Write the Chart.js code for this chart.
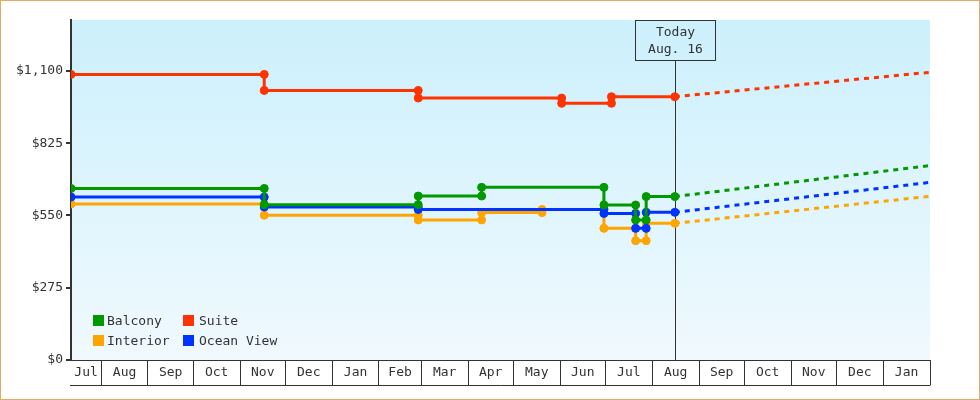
<!DOCTYPE html>
<html>
<head>
<meta charset="utf-8">
<title>Cabin prices</title>
<script src="https://cdn.jsdelivr.net/npm/chart.js@4.4.0/dist/chart.umd.min.js"></script>
<style>
  html, body { margin: 0; padding: 0; background: #fff; }
  #wrap { position: relative; width: 980px; height: 400px; }
  #frame {
    position: absolute; left: 0; top: 0; width: 980px; height: 400px;
    box-sizing: border-box; border: 1px solid #e9a962; pointer-events: none;
  }
  .item {
    position: absolute; font: 13px "DejaVu Sans Mono", monospace; color: #333;
    line-height: 13px; white-space: nowrap;
  }
  .item i {
    position: absolute; left: 0; top: 1px; width: 11px; height: 11px;
  }
</style>
</head>
<body>
<div id="wrap">
  <canvas id="chart" width="980" height="400"></canvas>
  <div id="legend"></div>
  <div id="frame"></div>
</div>
<script>
// --- data ---
const monthLabels = ['Jul', 'Aug', 'Sep', 'Oct', 'Nov', 'Dec', 'Jan', 'Feb', 'Mar', 'Apr',
                     'May', 'Jun', 'Jul', 'Aug', 'Sep', 'Oct', 'Nov', 'Dec', 'Jan'];
const yTicks = [0, 275, 550, 825, 1100];

const seriesNames = ['Balcony', 'Interior', 'Ocean View', 'Suite'];
const seriesColors = ['#009900', '#ffa500', '#0033ff', '#ff3300'];

const balconyDates  = ['2012-07-12', '2012-11-17', '2013-02-27', '2013-04-10', '2013-06-30', '2013-07-21', '2013-07-28'];
const balconyPrices = [653, 591, 624, 657, 590, 533, 622];

const interiorDates  = ['2012-07-12', '2012-11-17', '2013-02-27', '2013-04-10', '2013-05-20', '2013-06-30', '2013-07-21', '2013-07-28'];
const interiorPrices = [594, 551, 533, 561, 573, 501, 454, 520];

const oceanDates  = ['2012-07-12', '2012-11-17', '2013-02-27', '2013-06-30', '2013-07-21', '2013-07-28'];
const oceanPrices = [620, 582, 573, 558, 501, 562];

const suiteDates  = ['2012-07-12', '2012-11-17', '2013-02-27', '2013-06-02', '2013-07-05'];
const suitePrices = [1087, 1026, 997, 977, 1002];

// projected prices at the end of the axis, same order as seriesNames
const projectedPrices = [740, 623, 676, 1095];

const startDate = '2012-07-12';
const todayDate = '2013-08-16';
const endDate = '2014-02-01';
const todayLabel = ['Today', 'Aug. 16'];

// --- helpers ---
const FONT = '13px "DejaVu Sans Mono", monospace';
const INK = '#333';

function day(s) {
  const p = s.split('-').map(Number);
  return Date.UTC(p[0], p[1] - 1, p[2]) / 864e5;
}

// month boundaries after the start, plus the end of the axis
const boundaries = [];
for (let i = 1; i <= monthLabels.length; i++) {
  boundaries.push(Date.UTC(2012, 6 + i, 1) / 864e5);
}

function stepPoints(dates, prices) {
  const pts = [{ x: day(dates[0]), y: prices[0] }];
  for (let i = 1; i < dates.length; i++) {
    pts.push({ x: day(dates[i]), y: prices[i - 1] });
    pts.push({ x: day(dates[i]), y: prices[i] });
  }
  pts.push({ x: day(todayDate), y: prices[prices.length - 1] });
  return pts;
}

const history = [
  stepPoints(balconyDates, balconyPrices),
  stepPoints(interiorDates, interiorPrices),
  stepPoints(oceanDates, oceanPrices),
  stepPoints(suiteDates, suitePrices)
];
// drawing order: green on top, then blue, red, orange
const drawOrder = [0, 3, 1, 2];

const datasets = [];
history.forEach((pts, i) => {
  const last = pts[pts.length - 1];
  datasets.push({
    label: seriesNames[i],
    data: pts,
    borderColor: seriesColors[i],
    backgroundColor: seriesColors[i],
    pointBackgroundColor: seriesColors[i],
    borderWidth: 3,
    pointRadius: 4,
    pointBorderWidth: 1,
    pointHoverRadius: 4,
    order: drawOrder[i]
  });
  datasets.push({
    label: seriesNames[i] + ' (projected)',
    data: [{ x: last.x, y: last.y }, { x: day(endDate), y: projectedPrices[i] }],
    borderColor: seriesColors[i],
    borderWidth: 3,
    borderDash: [5, 5],
    pointRadius: 0,
    order: 10 + drawOrder[i]
  });
});

// --- plugins ---
const background = {
  id: 'background',
  beforeDraw(chart) {
    const { ctx, chartArea: a } = chart;
    const g = ctx.createLinearGradient(0, a.top, 0, a.bottom);
    g.addColorStop(0, '#ccf0fc');
    g.addColorStop(1, '#f0f9fe');
    ctx.save();
    ctx.fillStyle = g;
    ctx.fillRect(a.left, a.top, a.right - a.left, a.bottom - a.top);
    ctx.restore();
  }
};

const todayMarker = {
  id: 'todayMarker',
  beforeDatasetsDraw(chart) {
    const { ctx, chartArea: a } = chart;
    const x = Math.round(chart.scales.x.getPixelForValue(day(todayDate))) + 0.5;
    ctx.save();
    ctx.strokeStyle = INK;
    ctx.lineWidth = 1;
    ctx.beginPath();
    ctx.moveTo(x, a.top + 40);
    ctx.lineTo(x, a.bottom);
    ctx.stroke();
    ctx.restore();
  },
  afterDatasetsDraw(chart) {
    const { ctx, chartArea: a } = chart;
    const x = Math.round(chart.scales.x.getPixelForValue(day(todayDate))) + 0.5;
    ctx.save();
    ctx.strokeStyle = INK;
    ctx.lineWidth = 1;
    ctx.strokeRect(x - 40, a.top + 0.5, 80, 40);
    ctx.fillStyle = INK;
    ctx.font = FONT;
    ctx.textAlign = 'center';
    ctx.textBaseline = 'middle';
    ctx.fillText(todayLabel[0], x, a.top + 13);
    ctx.fillText(todayLabel[1], x, a.top + 30);
    ctx.restore();
  }
};

const monthAxis = {
  id: 'monthAxis',
  afterDraw(chart) {
    const { ctx, chartArea: a } = chart;
    const xs = chart.scales.x;
    const y = a.bottom + 25;
    ctx.save();
    ctx.strokeStyle = INK;
    ctx.lineWidth = 1;
    ctx.beginPath();
    ctx.moveTo(a.left - 1, y + 0.5);
    ctx.lineTo(a.right + 0.5, y + 0.5);
    ctx.stroke();
    ctx.fillStyle = INK;
    ctx.font = FONT;
    ctx.textAlign = 'center';
    ctx.textBaseline = 'middle';
    monthLabels.forEach((m, i) => {
      const from = i === 0 ? xs.min : boundaries[i - 1];
      const to = boundaries[i];
      const cx = (xs.getPixelForValue(from) + xs.getPixelForValue(to)) / 2;
      ctx.fillText(m, cx, a.bottom + 13);
    });
    ctx.restore();
  }
};

// --- legend as html, two columns ---
const legendPos = [[93, 314], [93, 334], [183, 334], [183, 314]];
const legendTextGap = [14, 14, 16, 16];
const legendEl = document.getElementById('legend');
seriesNames.forEach((name, i) => {
  const d = document.createElement('div');
  d.className = 'item';
  d.style.left = legendPos[i][0] + 'px';
  d.style.top = legendPos[i][1] + 'px';
  d.style.paddingLeft = legendTextGap[i] + 'px';
  d.innerHTML = '<i style="background:' + seriesColors[i] + '"></i>' + name;
  legendEl.appendChild(d);
});

new Chart(document.getElementById('chart').getContext('2d'), {
  type: 'line',
  data: { datasets: datasets },
  options: {
    responsive: false,
    animation: false,
    events: [],
    layout: { padding: { top: 20, right: 50, left: 0, bottom: 0 } },
    elements: { line: { tension: 0, borderCapStyle: 'butt', borderJoinStyle: 'miter' } },
    plugins: { legend: { display: false }, tooltip: { enabled: false } },
    scales: {
      x: {
        type: 'linear',
        min: day(startDate),
        max: day(endDate),
        afterBuildTicks: s => { s.ticks = boundaries.map(v => ({ value: v })); },
        afterFit: s => { s.height = 40; },
        grid: { drawOnChartArea: false, drawTicks: true, tickLength: 25, color: INK, lineWidth: 1 },
        border: { display: true, color: INK, width: 1 },
        ticks: { display: false }
      },
      y: {
        min: 0,
        max: 1294,
        afterBuildTicks: s => { s.ticks = yTicks.map(v => ({ value: v })); },
        afterFit: s => { s.width = 71; },
        grid: { drawOnChartArea: false, tickLength: 5, color: INK, lineWidth: 2 },
        border: { color: INK, width: 2 },
        ticks: {
          color: INK,
          font: { family: '"DejaVu Sans Mono", monospace', size: 13 },
          padding: 3,
          callback: v => '$' + v.toLocaleString('en-US')
        }
      }
    }
  },
  plugins: [background, todayMarker, monthAxis]
});
</script>
</body>
</html>
